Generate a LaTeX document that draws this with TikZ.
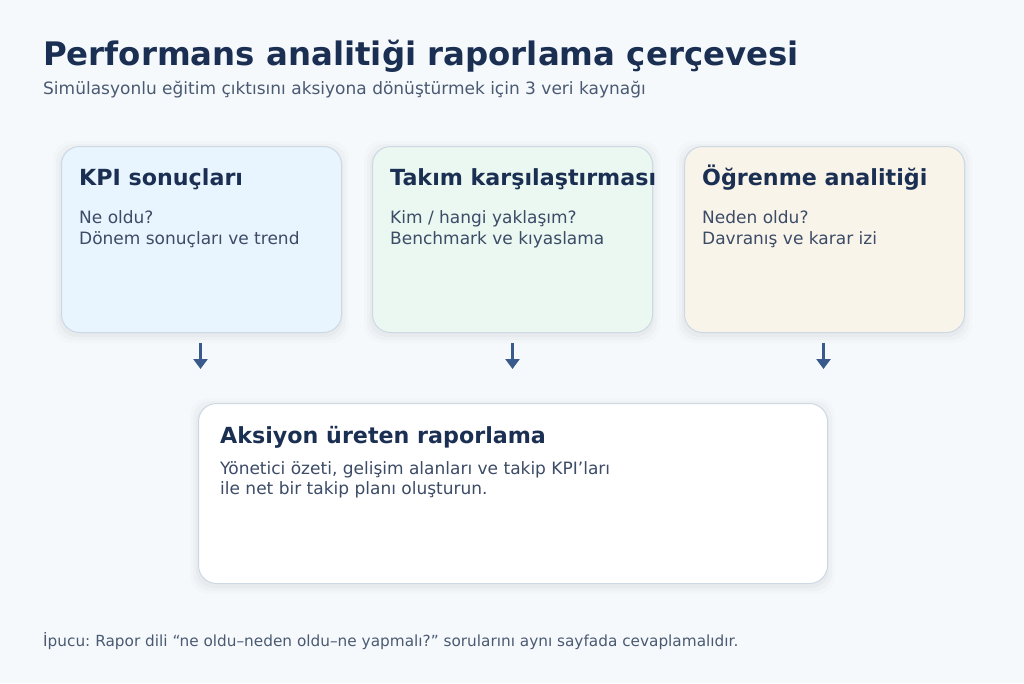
\documentclass[tikz,border=0pt]{standalone}
\usepackage{fontspec}
\setmainfont{DejaVu Sans}
\frenchspacing
\usetikzlibrary{arrows.meta}
\definecolor{bg}{HTML}{F6F9FC}
\definecolor{navy}{HTML}{1B2F52}
\definecolor{bodyc}{HTML}{3C4B66}
\definecolor{subc}{HTML}{4A5A72}
\definecolor{edgec}{HTML}{CDD8E5}
\definecolor{blueF}{HTML}{E8F4FE}
\definecolor{greenF}{HTML}{EAF8F1}
\definecolor{beigeF}{HTML}{F8F4EA}
\definecolor{arrowc}{HTML}{3B5A8C}
\tikzset{
  card/.style={draw=edgec, line width=1pt, rounded corners=18pt, anchor=north west, inner sep=0pt},
  ttl/.style={anchor=base west, inner sep=0pt, text=navy, font=\bfseries\fontsize{22.2}{26}\selectfont},
  bdy/.style={anchor=base west, inner sep=0pt, text=bodyc, font=\fontsize{17}{21}\selectfont},
  flow/.style={draw=arrowc, line width=3.5pt, -{Triangle[width=14pt,length=10pt]}},
}
\newcommand{\shadowcard}[4]{% x y w h
  \foreach \k/\o in {8/0.012,5/0.018,2/0.025}{
    \fill[black, opacity=\o, rounded corners=18pt] (#1-\k,#2-\k+3) rectangle (#1+#3+\k,#2+#4+\k+3);
  }
}
\begin{document}
\begin{tikzpicture}[x=1pt,y=-1pt]
\fill[bg] (0,0) rectangle (1024,683);
\useasboundingbox (0,0) rectangle (1024,683);

\node[anchor=base west, inner sep=0pt, text=navy, font=\bfseries\fontsize{32.4}{38}\selectfont] (title) at (43,65) {Performans analitiği raporlama çerçevesi};
\node[anchor=base west, inner sep=0pt, text=subc, font=\fontsize{17}{20}\selectfont] (sub) at (43,94.5) {Simülasyonlu eğitim çıktısını aksiyona dönüştürmek için 3 veri kaynağı};

\shadowcard{61}{146}{280}{186}
\shadowcard{372}{146}{280}{186}
\shadowcard{684}{146}{280}{186}
\shadowcard{198}{403}{629}{180}

\node[card, fill=blueF, minimum width=280pt, minimum height=186pt] (k1) at (61,146) {};
\node[card, fill=greenF, minimum width=280pt, minimum height=186pt] (k2) at (372,146) {};
\node[card, fill=beigeF, minimum width=280pt, minimum height=186pt] (k3) at (684,146) {};
\node[card, fill=white, minimum width=629pt, minimum height=180pt] (k4) at (198,403) {};

\node[ttl] (t1) at (79,185) {KPI sonuçları};
\node[bdy] (b1a) at (79,223) {Ne oldu?};
\node[bdy] (b1b) at (79,244) {Dönem sonuçları ve trend};
\node[ttl] (t2) at (390,185) {Takım karşılaştırması};
\node[bdy] (b2a) at (390,223) {Kim / hangi yaklaşım?};
\node[bdy] (b2b) at (390,244) {Benchmark ve kıyaslama};
\node[ttl] (t3) at (702,185) {Öğrenme analitiği};
\node[bdy] (b3a) at (702,223) {Neden oldu?};
\node[bdy] (b3b) at (702,244) {Davranış ve karar izi};

\node[ttl] (t4) at (220,443) {Aksiyon üreten raporlama};
\node[bdy] (b4a) at (220,474) {Yönetici özeti, gelişim alanları ve takip KPI’ları};
\node[bdy] (b4b) at (220,494.5) {ile net bir takip planı oluşturun.};

\draw[flow] ([xshift=-1pt,yshift=-10pt]k1.south) -- ([xshift=-1pt,yshift=-36pt]k1.south);
\draw[flow] ([yshift=-10pt]k2.south) -- ([yshift=-36pt]k2.south);
\draw[flow] ([xshift=-1pt,yshift=-10pt]k3.south) -- ([xshift=-1pt,yshift=-36pt]k3.south);

\node[anchor=base west, inner sep=0pt, text=subc, font=\fontsize{15.3}{18}\selectfont] (tip) at (43,646) {İpucu: Rapor dili “ne oldu–neden oldu–ne yapmalı?” sorularını aynı sayfada cevaplamalıdır.};
\end{tikzpicture}
\end{document}
